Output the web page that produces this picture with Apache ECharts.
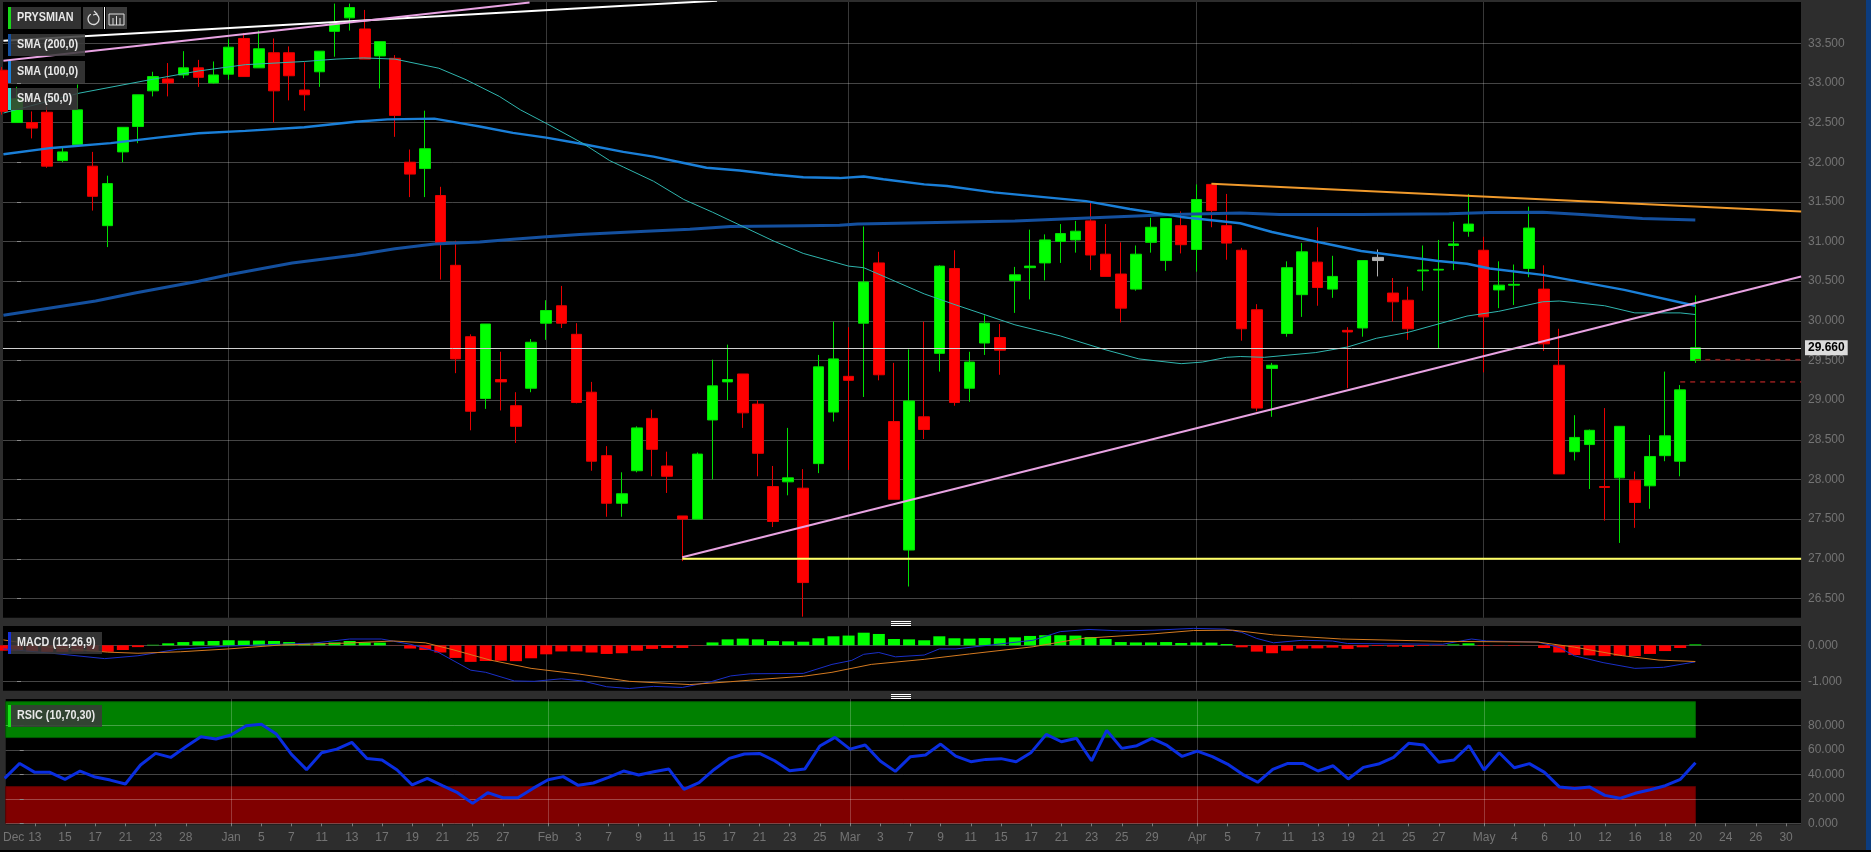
<!DOCTYPE html>
<html><head><meta charset="utf-8">
<style>html,body{margin:0;padding:0;background:#2d2d2d;overflow:hidden}#c{width:1871px;height:852px}</style>
<script src="https://cdn.jsdelivr.net/npm/echarts@6/dist/echarts.min.js"></script>
</head><body><div id="c"></div>
<script>
// Candles: the first entry sits one slot before "Dec" tick 0 and is mostly cut off by the pane edge
const firstSlot = -1;
const opens = [33.16,
32.50,32.50,32.63,32.02,32.22,31.95,31.20,32.13,32.45,32.90,
33.05,33.10,33.19,33.00,33.11,33.56,33.19,33.38,33.38,32.91,
33.14,33.65,33.82,33.68,33.34,33.31,32.00,31.92,31.58,30.70,
29.80,29.02,29.26,28.93,29.15,29.97,30.19,29.83,29.10,28.30,
27.70,28.11,28.77,28.17,27.54,27.50,28.75,29.23,29.33,28.95,
27.91,27.97,27.89,28.20,28.85,29.30,29.97,30.73,28.73,27.11,
28.79,29.59,30.66,29.15,29.72,29.79,30.51,30.67,30.73,31.00,
31.02,31.26,30.84,30.59,30.40,30.99,30.76,31.20,30.90,31.72,
31.20,30.89,30.14,29.40,29.84,30.33,30.74,30.40,29.88,29.91,
30.76,30.35,30.26,30.63,30.64,30.95,31.13,30.89,30.39,30.45,
30.66,30.40,29.44,28.35,28.44,27.91,28.02,27.99,27.92,28.30,
28.23,29.50];
const closes = [32.64,
32.80,32.43,31.95,32.13,32.66,31.57,31.73,32.44,32.85,33.08,
33.00,33.19,33.07,33.10,33.45,33.08,33.43,32.90,33.09,32.85,
33.40,33.75,33.95,33.30,33.52,32.59,31.85,32.17,30.98,29.52,
28.86,29.96,29.23,28.67,29.73,30.13,29.97,28.97,28.23,27.70,
27.82,28.65,28.38,28.04,27.50,28.32,29.18,29.26,28.84,28.33,
27.47,28.02,26.70,29.42,29.52,29.25,30.49,29.32,27.75,28.99,
28.63,30.69,28.97,29.48,29.97,29.63,30.58,30.69,31.02,31.10,
31.13,30.83,30.56,30.16,30.84,31.18,31.29,30.96,31.53,31.39,
30.98,29.90,28.90,29.44,30.67,30.87,30.42,30.56,29.86,30.76,
30.80,30.24,29.90,30.64,30.65,30.97,31.22,30.05,30.45,30.46,
31.17,29.71,28.07,28.53,28.62,27.90,28.67,27.71,28.29,28.55,
29.13,29.66];
const lows = [32.60,
32.50,32.30,31.93,32.00,32.21,31.39,30.93,32.00,32.24,32.83,
32.83,33.06,32.95,32.99,33.04,33.08,33.19,32.50,32.78,32.65,
32.95,33.33,33.66,33.30,32.93,32.32,31.56,31.56,30.52,29.34,
28.62,28.89,28.87,28.46,29.10,29.76,29.91,28.96,28.11,27.53,
27.53,28.09,28.04,27.83,26.97,27.50,28.00,29.00,28.65,28.04,
27.40,27.80,26.27,28.08,28.73,28.12,29.04,29.25,27.75,26.65,
28.51,29.36,28.93,28.98,29.57,29.32,30.10,30.27,30.51,30.73,
30.86,30.64,30.56,29.98,30.38,30.86,30.63,30.85,30.62,31.18,
30.77,29.75,28.86,28.79,29.80,30.05,30.19,30.29,29.15,29.80,
30.56,29.99,29.76,30.38,29.65,30.64,31.06,29.35,30.16,30.20,
30.55,29.62,28.07,28.24,27.88,27.48,27.20,27.39,27.63,28.23,
28.04,29.47];
const highs = [33.20,
32.95,32.64,32.70,32.20,32.98,32.13,31.83,32.44,32.85,33.14,
33.25,33.40,33.29,33.27,33.55,33.63,33.66,33.56,33.46,33.26,
33.40,34.00,34.00,33.92,33.52,33.35,32.16,32.65,31.69,31.01,
29.83,29.96,29.61,29.10,29.77,30.26,30.44,29.97,29.23,28.42,
28.09,28.67,28.88,28.35,27.54,28.34,29.51,29.70,29.33,29.00,
28.17,28.65,28.13,29.57,29.99,29.92,31.19,30.87,29.47,29.64,
29.99,30.70,30.89,29.61,30.07,29.96,30.68,31.15,31.09,31.22,
31.26,31.49,31.22,30.99,30.95,31.30,31.29,31.38,31.72,31.73,
31.60,30.92,30.21,29.47,30.75,30.98,31.18,30.82,29.92,30.76,
30.90,30.54,30.43,30.95,31.02,31.25,31.60,31.06,30.75,30.71,
31.44,30.70,29.90,28.81,28.63,28.90,28.67,28.10,28.56,29.36,
29.19,30.32];
const unchangedSlots = [90];

// Moving averages read at the visible bends: slot, value
const sma200Slots = [-0.9,5.2,7.8,12,14,18.2,22.4,25,27.6,30.6,32.8,35,37.2,41.6,44.5,47.2,52,54.4,55.6,60.8,66,71.2,76.5,80.9,83.5,88.9,94.7,97.4,100.9,103.5,107.5,111];
const sma200Values = [30.07,30.25,30.35,30.50,30.58,30.73,30.83,30.91,30.97,30.995,31.03,31.06,31.09,31.13,31.155,31.19,31.20,31.205,31.22,31.24,31.26,31.30,31.34,31.36,31.34,31.34,31.35,31.365,31.37,31.34,31.29,31.27];
const sma100Slots = [-0.9,2.3,6.2,9.3,12,15.1,19,22.4,24.5,27.6,29.7,30.6,32.8,35,37.4,40.1,42.1,44.1,45.6,47.8,50,52,54.4,56,57.3,60,61.5,64.6,70.7,73.6,77,80.9,83,85.9,88.9,94,95.9,97.4,100.9,106.3,111];
const sma100Values = [32.10,32.18,32.24,32.31,32.365,32.395,32.44,32.51,32.54,32.55,32.48,32.45,32.37,32.31,32.23,32.13,32.07,31.99,31.93,31.895,31.845,31.81,31.80,31.82,31.785,31.72,31.70,31.62,31.51,31.41,31.31,31.23,31.12,31.00,30.88,30.755,30.72,30.66,30.58,30.39,30.19];
const sma50Slots = [-0.9,4.1,8.8,12,15.1,19,21.1,22.9,25,27.9,29.7,31.9,33.3,35,37.4,39.2,40.1,42.1,44.1,46,48,50,52,53.5,55,56,60,62.1,66,69,71.8,74.2,77,78.4,80,80.9,82.5,85.9,88,89.9,92,94,95.9,98,100.9,102,105,107,110,111];
const sma50Values = [32.62,32.87,33.04,33.15,33.23,33.27,33.30,33.315,33.30,33.185,33.04,32.83,32.66,32.49,32.24,32.02,31.94,31.76,31.53,31.37,31.19,31.01,30.85,30.77,30.69,30.67,30.34,30.20,29.95,29.81,29.645,29.52,29.46,29.48,29.54,29.55,29.54,29.60,29.67,29.78,29.855,29.96,30.06,30.12,30.24,30.25,30.19,30.10,30.10,30.08];

// Drawn trend lines: [slot, price] ends
const whiteTrend = [[-0.9,33.53],[39.9,33.97],[46.3,34.035]];
const pinkUpperTrend = [[-0.9,33.28],[33.9,34.013]];
const pinkLowerTrend = [[44,27.018],[118,30.558]];
const yellowSupport = [[44,27.0],[118,27.0]];
const orangeResistance = [[79,31.727],[118,31.378]];
const dashUpper = [[111,29.51],[118,29.51]];
const dashLower = [[110,29.23],[118,29.23]];
const lastPrice = 29.66;

// MACD panel
const macdHist = [-0.15,
-0.15,-0.17,-0.18,-0.18,-0.17,-0.17,-0.18,-0.13,-0.05,0.015,
0.055,0.09,0.11,0.12,0.14,0.13,0.13,0.12,0.09,0.055,
0.055,0.08,0.12,0.08,0.075,-0.005,-0.09,-0.13,-0.20,-0.35,
-0.46,-0.435,-0.43,-0.44,-0.36,-0.25,-0.17,-0.17,-0.20,-0.24,
-0.22,-0.15,-0.10,-0.075,-0.075,-0.01,0.08,0.165,0.185,0.165,
0.12,0.11,0.10,0.195,0.25,0.27,0.35,0.315,0.175,0.165,
0.14,0.25,0.195,0.185,0.20,0.195,0.22,0.26,0.28,0.28,
0.27,0.23,0.175,0.09,0.08,0.08,0.09,0.065,0.08,0.075,
0.035,-0.055,-0.175,-0.22,-0.15,-0.09,-0.085,-0.065,-0.10,-0.055,
-0.02,-0.035,-0.045,-0.02,-0.01,0.025,0.055,-0.015,-0.01,-0.015,
-0.005,-0.075,-0.20,-0.27,-0.28,-0.30,-0.29,-0.30,-0.24,-0.16,
-0.075,0.025];
const macdSlots = [-0.9,2.3,5.8,8,10.6,14,17.5,19.6,22,24.1,26,27.8,30,31,32.9,34.2,36,37.4,39,40.5,42.1,44,45.9,47.2,48.5,52,53.9,55.2,56,57,58.1,60,61,62.1,64,67.2,69,70.9,73,75.2,77.8,79.9,81,82,83.1,85,87,88,94.3,96.2,97.2,100.6,102,103,104.9,107,108.9,111];
const macdValues = [-0.1,-0.22,-0.37,-0.29,-0.11,-0.02,0.03,0.06,0.175,0.175,0.03,-0.18,-0.69,-0.75,-0.99,-1.0,-0.93,-0.99,-1.15,-1.2,-1.14,-1.17,-1.01,-0.85,-0.79,-0.78,-0.53,-0.42,-0.25,-0.20,-0.32,-0.27,-0.10,-0.10,-0.01,0.14,0.38,0.44,0.40,0.42,0.47,0.45,0.36,0.19,0.07,0.14,0.12,0.05,0.03,0.175,0.12,0.09,-0.06,-0.29,-0.48,-0.64,-0.61,-0.46];
const signalSlots = [-0.9,2.3,6,8,10.8,14,17.5,21.7,24.9,27,28.9,31.3,34,37.2,40.5,44.5,47.2,49,52,53.9,56.5,60,63,67.2,70.4,75.2,77.8,80.4,83.1,87.6,94.3,100.6,103,106.2,108.6,111];
const signalValues = [0.15,-0.06,-0.19,-0.22,-0.18,-0.10,0.01,0.06,0.12,0.07,-0.13,-0.41,-0.64,-0.80,-1.0,-1.09,-1.01,-0.95,-0.86,-0.75,-0.53,-0.39,-0.24,-0.04,0.19,0.32,0.41,0.42,0.29,0.175,0.11,0.09,-0.05,-0.29,-0.41,-0.45];

// RSI panel
const rsiValues = [36.7,
48.9,41.6,41.6,35.9,42.7,37.8,35.3,32.1,47.6,57.1,
53.8,62.5,70.7,68.8,72.1,79.7,80.8,72.9,56.3,43.8,
57.6,60.6,66.1,53.0,51.7,43.5,31.3,36.7,30.7,25.0,
16.3,25.0,20.9,20.9,28.5,35.6,38.1,31.0,32.9,37.5,
42.7,39.4,42.1,44.3,27.7,33.2,44.0,53.0,56.6,57.1,
51.1,43.0,44.3,63.1,70.2,60.6,63.9,50.9,42.4,54.4,
55.8,64.7,54.9,50.3,52.2,52.8,50.3,57.9,72.6,66.6,
69.4,51.1,75.9,61.2,63.4,69.4,63.6,54.6,59.0,54.4,
48.4,40.0,33.5,44.0,48.9,48.9,42.7,47.0,36.2,45.7,
48.4,53.8,65.3,63.9,49.8,51.7,63.4,43.5,57.6,45.4,
48.7,41.6,29.6,28.5,29.6,22.8,20.4,24.5,27.4,30.7,
35.9,49.5];
const rsiHighBand = [70, 99.3];
const rsiLowBand = [0, 30];
const lastDataSlot = 111;

// Axes
const xMin = -0.926, xMax = 117.99;
const tickSlots = [1,3,5,7,9,11,14,16,18,20,22,24,26,28,30,32,35,37,39,41,43,45,47,49,51,53,55,57,59,61,63,65,67,69,71,73,75,78,80,82,84,86,88,90,92,94,97,99,101,103,105,107,109,111,113,115,117];
const tickLabels = ['13','15','17','21','23','28','Jan','5','7','11','13','17','19','21','25','27','Feb','3','7','9','11','15','17','21','23','25','Mar','3','7','9','11','15','17','21','23','25','29','Apr','5','7','11','13','19','21','25','27','May','4','6','10','12','16','18','20','24','26','30'];
const decLabelSlot = -0.4;
const monthSlots = [14,35,55,78,97];
const priceTicks = [26.5,27,27.5,28,28.5,29,29.5,30,30.5,31,31.5,32,32.5,33,33.5];
const macdTicks = [-1,0];
const rsiTicks = [0,20,40,60,80];

const GRID = 'rgba(255,255,255,0.27)';
const VERT = 'rgba(255,255,255,0.22)';
const AXTXT = '#747474';
const FONT = '"Liberation Sans", Arial, sans-serif';

const candleData = opens.map((o,i)=>{
  const slot = i + firstSlot;
  const value = [slot,o,closes[i],lows[i],highs[i]];
  if (unchangedSlots.includes(slot)) return {value, itemStyle:{color:'#b0b0b0',borderColor:'#b0b0b0'}};
  return value;
});
const pairs = (xs,ys)=>xs.map((x,i)=>[x,ys[i]]);
const line = (name,data,color,width,gi,extra)=>Object.assign({
  name,type:'line',data,xAxisIndex:gi,yAxisIndex:gi,showSymbol:false,symbol:'none',
  lineStyle:{color,width},z:7,silent:true,animation:false
},extra||{});
const monthLines = gi=>({type:'line',data:[],xAxisIndex:gi,yAxisIndex:gi,silent:true,animation:false,z:1,
  markLine:{silent:true,symbol:'none',animation:false,z:gi===2?3:1,label:{show:false},
    lineStyle:{color:VERT,width:1,type:'solid'},data:monthSlots.map(m=>({xAxis:m}))}});

const yAxisBase = (gi,min,max,ticks)=>({
  gridIndex:gi,type:'value',position:'right',min,max,scale:true,z:gi===2?2:0,
  axisLine:{show:false},
  axisTick:{show:true,length:4,customValues:ticks,lineStyle:{color:'#8a8a8a'}},
  axisLabel:{show:true,customValues:ticks,margin:7,color:AXTXT,fontSize:12,fontFamily:FONT,formatter:v=>(+v).toFixed(3)},
  splitLine:{show:true,lineStyle:{color:GRID,width:1}}
});
const xAxisBase = (gi,show)=>({
  gridIndex:gi,type:'value',min:xMin,max:xMax,show,z:2,
  axisLine:{show:false},
  axisTick:{show:true,length:3,customValues:tickSlots,lineStyle:{color:'#7a7a7a'}},
  axisLabel:{show:true,customValues:[decLabelSlot].concat(tickSlots),margin:7,color:AXTXT,fontSize:12,fontFamily:FONT,
    showMinLabel:true,showMaxLabel:true,hideOverlap:false,
    formatter:v=>v===decLabelSlot?'Dec':tickLabels[tickSlots.indexOf(v)]},
  splitLine:{show:false}
});

// Legend chips, drawn as real text
const chip = (x,y,w,label,bar)=>[
  {type:'rect',shape:{x,y,width:w,height:22},style:{fill:'rgba(58,58,58,0.86)'},z:50},
  {type:'rect',shape:{x,y,width:3,height:22},style:{fill:bar},z:51},
  {type:'text',x:x+9,y:y+11,scaleX:0.9,style:{text:label,fill:'#e8e8e8',font:'bold 12px '+FONT,verticalAlign:'middle'},z:52}
];
const grip = (x,y)=>[0,2,4].map(d=>({type:'rect',shape:{x,y:y+d,width:20,height:1},style:{fill:'#ffffff'},z:40}));

const graphics = [].concat(
  [{type:'rect',shape:{x:1866,y:0,width:5,height:852},style:{fill:'#0c3c7e'},z:60},
   {type:'rect',shape:{x:0,y:850,width:1871,height:2},style:{fill:'#000'},z:60},
   {type:'rect',shape:{x:83,y:7,width:20,height:22},style:{fill:'#3a3a3a'},z:50},
   {type:'rect',shape:{x:106,y:7,width:21,height:22},style:{fill:'#3a3a3a'},z:50},
   {type:'rect',shape:{x:104,y:7,width:1,height:22},style:{fill:'#ffffff'},z:51},
   {type:'arc',shape:{cx:93.5,cy:19,r:5.5,startAngle:-1.2,endAngle:4.2,clockwise:true},style:{stroke:'#ddd',fill:null,lineWidth:1.3},z:51},
   {type:'polyline',shape:{points:[[94,11],[97,14],[93,15]]},style:{stroke:'#ddd',fill:null,lineWidth:1.1},z:51},
   {type:'polyline',shape:{points:[[109,14],[109,25],[124,25]]},style:{stroke:'#ddd',fill:null,lineWidth:1},z:51},
   {type:'polyline',shape:{points:[[109,14],[124,14],[124,25]]},style:{stroke:'#ddd',fill:null,lineWidth:1},z:51},
   {type:'line',shape:{x1:113,y1:18,x2:113,y2:25},style:{stroke:'#ddd',lineWidth:1},z:51},
   {type:'line',shape:{x1:116.5,y1:16,x2:116.5,y2:25},style:{stroke:'#ddd',lineWidth:1},z:51},
   {type:'line',shape:{x1:120,y1:18,x2:120,y2:25},style:{stroke:'#ddd',lineWidth:1},z:51}],
  chip(8,7,73,'PRYSMIAN','#18d818'),
  chip(8,34,77,'SMA (200,0)','#14509f'),
  chip(8,61,77,'SMA (100,0)','#1a7fd8'),
  chip(8,88,70,'SMA (50,0)','#38d8d0'),
  chip(8,632,94,'MACD (12,26,9)','#1530d8'),
  chip(8,705,94,'RSIC (10,70,30)','#18e018'),
  grip(891,621),grip(891,694)
);

const option = {
  animation:false,
  backgroundColor:'#2d2d2d',
  grid:[
    {left:3,top:2,width:1798,height:615.7,show:true,backgroundColor:'#000',borderWidth:0},
    {left:3,top:626,width:1798,height:64.7,show:true,backgroundColor:'#000',borderWidth:0},
    {left:3,top:699,width:1798,height:125.3,show:true,backgroundColor:'#000',borderWidth:0}
  ],
  xAxis:[xAxisBase(0,false),xAxisBase(1,false),xAxisBase(2,true)],
  yAxis:[yAxisBase(0,26.257,34.02,priceTicks),yAxisBase(1,-1.26,0.536,macdTicks),yAxisBase(2,-0.8,101.5,rsiTicks)],
  series:[
    monthLines(0),monthLines(1),monthLines(2),
    {type:'candlestick',data:candleData,xAxisIndex:0,yAxisIndex:0,barWidth:11,z:5,silent:true,animation:false,
     itemStyle:{color:'#00ff00',color0:'#ff0000',borderColor:'#00e000',borderColor0:'#e80000',borderWidth:1}},
    line('SMA 200',pairs(sma200Slots,sma200Values),'#14509f',3,0),
    line('SMA 100',pairs(sma100Slots,sma100Values),'#1a7fd8',2.4,0),
    line('SMA 50',pairs(sma50Slots,sma50Values),'#2fb5ae',1,0),
    line('White trend',whiteTrend,'#ffffff',2,0),
    line('Pink upper',pinkUpperTrend,'#e8a3e2',2,0),
    line('Pink lower',pinkLowerTrend,'#e8a3e2',2,0),
    line('Support',yellowSupport,'#ffff66',2,0),
    line('Resistance',orangeResistance,'#f09a2c',2,0),
    line('Stop upper',dashUpper,'#8c1c1c',1.6,0,{lineStyle:{color:'#8c1c1c',width:1.6,type:[5,5]}}),
    line('Stop lower',dashLower,'#8c1c1c',1.6,0,{lineStyle:{color:'#8c1c1c',width:1.6,type:[5,5]}}),
    {type:'line',data:[],xAxisIndex:0,yAxisIndex:0,silent:true,animation:false,z:8,
     markLine:{silent:true,symbol:'none',animation:false,z:8,
       lineStyle:{color:'#d0d0d0',width:1,type:'solid'},
       label:{show:true,position:'end',distance:4,formatter:()=>lastPrice.toFixed(3),color:'#000',backgroundColor:'#dcdcdc',
         padding:[2,3,1,3],fontSize:12,fontWeight:'bold',fontFamily:FONT},
       data:[{yAxis:lastPrice}]}},
    {type:'bar',data:macdHist.map((v,i)=>[i+firstSlot,v]),xAxisIndex:1,yAxisIndex:1,barWidth:12,z:4,silent:true,animation:false,
     itemStyle:{color:p=>p.value[1]>=0?'#00ff00':'#ff0000'}},
    line('MACD',pairs(macdSlots,macdValues),'#1a2fc8',1,1),
    line('Signal',pairs(signalSlots,signalValues),'#d47a20',1,1),
    {type:'line',data:[],xAxisIndex:2,yAxisIndex:2,silent:true,animation:false,z:1,
     markArea:{silent:true,z:1,animation:false,label:{show:false},
       data:[
        [{xAxis:xMin,yAxis:rsiHighBand[0],itemStyle:{color:'#008000',borderColor:'#005c00',borderWidth:1}},{xAxis:lastDataSlot,yAxis:rsiHighBand[1]}],
        [{xAxis:xMin,yAxis:rsiLowBand[0],itemStyle:{color:'#800000',borderColor:'#5c0000',borderWidth:1}},{xAxis:lastDataSlot,yAxis:rsiLowBand[1]}]
       ]}},
    line('RSI',rsiValues.map((v,i)=>[i+firstSlot,v]),'#0a2ee0',3,2)
  ],
  graphic:graphics
};
const chart = echarts.init(document.getElementById('c'),null,{renderer:'canvas',width:1871,height:852});
chart.setOption(option);
</script></body></html>
